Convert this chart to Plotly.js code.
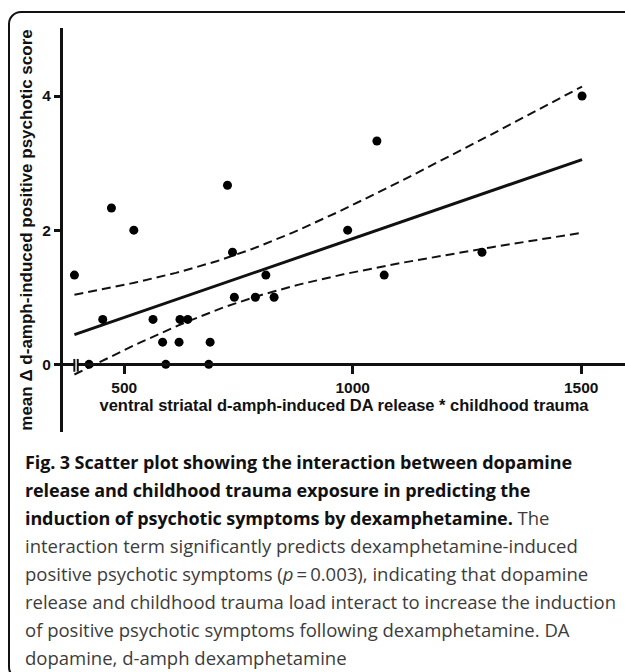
<!DOCTYPE html>
<html>
<head>
<meta charset="utf-8">
<script src="https://cdn.plot.ly/plotly-3.0.1.min.js"></script>
<style>
html, body { margin:0; padding:0; width:625px; height:672px; overflow:hidden; background:#fff; }
#chart { position:absolute; left:0; top:0; width:625px; height:672px; }
#frame { position:absolute; left:8px; top:11px; width:700px; height:665px; border:2px solid #111; border-radius:13px; pointer-events:none; z-index:5; }
#cap { position:absolute; left:25px; top:448px; font-family:'Open Sans', sans-serif; font-size:18.5px; line-height:28px; color:#3c3c3c; white-space:nowrap; z-index:6; }
#cap b { color:#111; font-weight:700; font-size:18px; letter-spacing:-0.1px; }
</style>
</head>
<body>
<div id="chart"></div>
<div id="frame"></div>
<div id="cap">
<b>Fig. 3 Scatter plot showing the interaction between dopamine</b><br>
<b>release and childhood trauma exposure in predicting the</b><br>
<b>induction of psychotic symptoms by dexamphetamine.</b> The<br>
interaction term significantly predicts dexamphetamine-induced<br>
positive psychotic symptoms (<i>p</i>&#8201;=&#8201;0.003), indicating that dopamine<br>
release and childhood trauma load interact to increase the induction<br>
of positive psychotic symptoms following dexamphetamine. DA<br>
dopamine, d-amph dexamphetamine
</div>
<script>
// Data
const releaseTrauma = [391,423,453,472,521,563,584,591,620,622,639,685,688,726,737,741,787,810,828,989,1053,1069,1283,1502];
const deltaScore = [1.33,0,0.67,2.33,2,0.67,0.33,0,0.33,0.67,0.67,0,0.33,2.67,1.67,1,1,1.33,1,2,3.33,1.33,1.67,4];
const xTickVals = [500,1000,1500];
const yTickVals = [0,2,4];
const xTitle = 'ventral striatal d-amph-induced DA release * childhood trauma';
const yTitle = 'mean \u0394 d-amph-induced positive psychotic score';

// Linear regression with 95% confidence band
const n = releaseTrauma.length;
const mx = releaseTrauma.reduce((a,b)=>a+b,0)/n;
const my = deltaScore.reduce((a,b)=>a+b,0)/n;
let sxx=0, sxy=0;
for (let i=0;i<n;i++){ sxx += (releaseTrauma[i]-mx)**2; sxy += (releaseTrauma[i]-mx)*(deltaScore[i]-my); }
const slope = sxy/sxx, icpt = my - slope*mx;
let sse=0;
for (let i=0;i<n;i++){ sse += (deltaScore[i]-(icpt+slope*releaseTrauma[i]))**2; }
const s = Math.sqrt(sse/(n-2));
const tcrit = 2.074; // t(0.975, df=22)
const xmin = Math.min(...releaseTrauma), xmax = Math.max(...releaseTrauma);
const fx=[], fy=[], lo=[], hi=[];
for (let k=0;k<=100;k++){
  const x = xmin + (xmax-xmin)*k/100;
  const yh = icpt + slope*x;
  const se = s*Math.sqrt(1/n + (x-mx)**2/sxx);
  fx.push(x); fy.push(yh); lo.push(yh - tcrit*se); hi.push(yh + tcrit*se);
}

const W=625, H=672;
const xRange=[366,1596], yRange=[-1.009,5.014];
const yDom=[1-432/H, 1-28/H];
const zeroPos = yDom[0] + (0-yRange[0])/(yRange[1]-yRange[0])*(yDom[1]-yDom[0]);

const FAM = 'Liberation Sans, Arial, sans-serif';
const axisFont = {family:FAM, size:15.5, color:'#111', weight:700};

const traces = [
  {x:fx, y:hi, mode:'lines', line:{color:'#111', width:2, dash:'9px,5px'}, hoverinfo:'skip', showlegend:false},
  {x:fx, y:lo, mode:'lines', line:{color:'#111', width:2, dash:'9px,5px'}, hoverinfo:'skip', showlegend:false},
  {x:fx, y:fy, mode:'lines', line:{color:'#111', width:3}, hoverinfo:'skip', showlegend:false},
  {x:releaseTrauma, y:deltaScore, mode:'markers', marker:{color:'#000', size:9}, showlegend:false, cliponaxis:false}
];

const layout = {
  width:W, height:H,
  margin:{l:0,r:0,t:0,b:0},
  paper_bgcolor:'rgba(0,0,0,0)', plot_bgcolor:'rgba(0,0,0,0)',
  showlegend:false,
  xaxis:{
    domain:[63/W,1], range:xRange, anchor:'free', position:zeroPos,
    showline:true, linewidth:3, linecolor:'#111', showgrid:false, zeroline:false,
    ticks:'outside', ticklen:8, tickwidth:3, tickcolor:'#111',
    tickvals:xTickVals, ticktext:xTickVals.map(String), tickfont:axisFont,
    title:{text:xTitle, font:{family:FAM, size:16.5, color:'#111', weight:700}, standoff:4}
  },
  yaxis:{
    domain:yDom, range:yRange, anchor:'x',
    showline:true, linewidth:3, linecolor:'#111', showgrid:false, zeroline:false,
    ticks:'outside', ticklen:6, tickwidth:3, tickcolor:'#111',
    tickvals:yTickVals, ticktext:yTickVals.map(String), tickfont:axisFont,
    title:{text:yTitle, font:{family:FAM, size:17, color:'#111', weight:700}, standoff:6}
  },
  shapes:[
    {type:'rect', xref:'x', yref:'y', x0:392.5, x1:396.8, y0:-0.04, y1:0.04, fillcolor:'#fff', line:{width:0}, layer:'above'},
    {type:'line', xref:'x', yref:'y', x0:390.8, x1:390.8, y0:-0.11, y1:0.08, line:{color:'#111', width:2}, layer:'above'},
    {type:'line', xref:'x', yref:'y', x0:398.3, x1:398.3, y0:-0.11, y1:0.08, line:{color:'#111', width:2}, layer:'above'}
  ]
};

Plotly.newPlot('chart', traces, layout, {displayModeBar:false, staticPlot:true});
</script>
</body>
</html>
